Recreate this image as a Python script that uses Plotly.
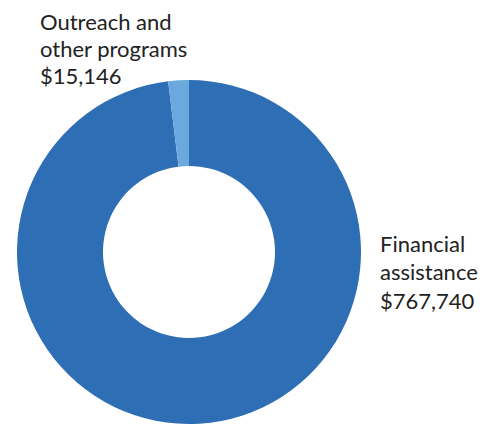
import plotly.graph_objects as go

categories = ["Financial assistance", "Outreach and other programs"]
values = [767740, 15146]
label_lines = [["Financial", "assistance", "$767,740"],
               ["Outreach and", "other programs", "$15,146"]]
colors = ["#2E6EB5", "#6AA8DD"]

W, H = 494, 425
FS = 22
fig = go.Figure(go.Pie(
    labels=categories, values=values, hole=0.5, sort=False,
    direction="clockwise", rotation=0,
    marker=dict(colors=colors, line=dict(width=0)),
    textinfo="none", hoverinfo="label+value", showlegend=False,
    domain=dict(x=[8 / W, 354 / W], y=[9 / H, 1 - 72 / H]),
))

# label blocks: (left x px, first baseline px, line pitch px) in svg coords
blocks = [(371, 244, 28.5), (31, 22, 27)]
for lines, (x0, b0, pitch) in zip(label_lines, blocks):
    for i, line in enumerate(lines):
        center = b0 + i * pitch - 0.387 * FS
        fig.add_annotation(text=line, x=x0 / W, y=1 - center / H, xref="paper", yref="paper",
                           xanchor="left", yanchor="middle", align="left", showarrow=False,
                           borderpad=0,
                           font=dict(size=FS, color="#222222", family="Lato"))

fig.update_layout(width=W, height=H, margin=dict(l=0, r=0, t=0, b=0),
                  paper_bgcolor="white", plot_bgcolor="white")
fig.write_html("out.html")
